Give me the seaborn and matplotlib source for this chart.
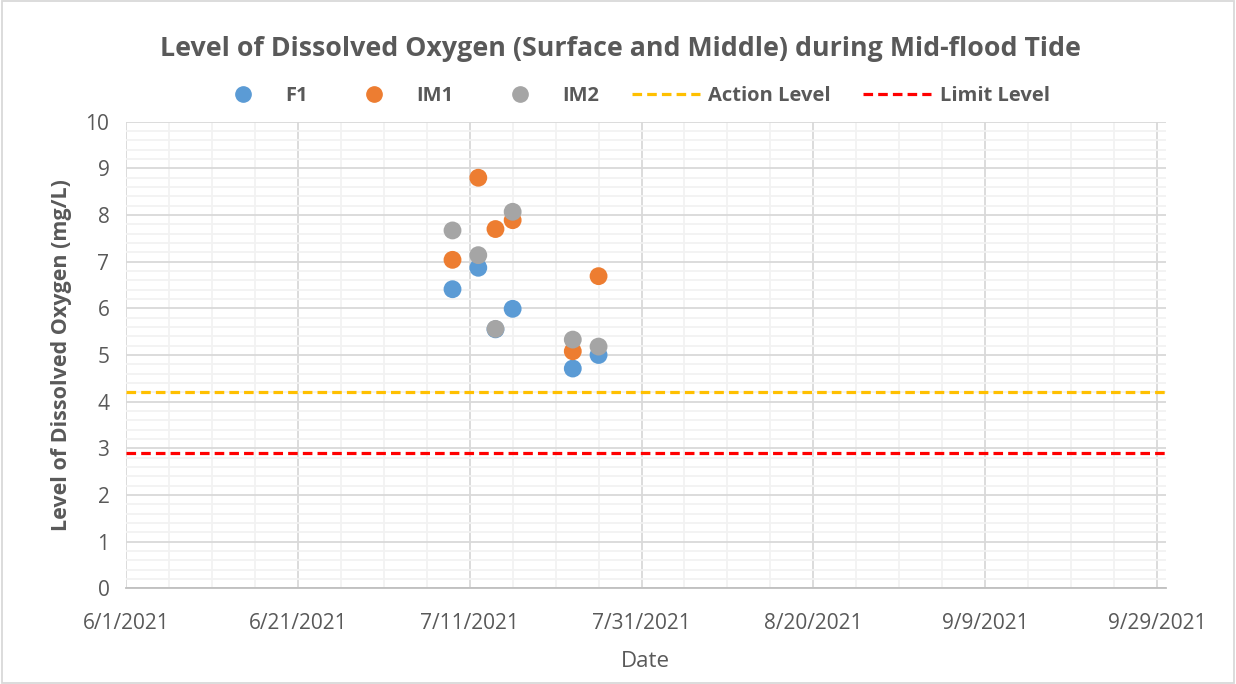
import matplotlib
matplotlib.use("Agg")
import matplotlib.pyplot as plt
import matplotlib.ticker as mticker
from matplotlib.lines import Line2D
from matplotlib.patches import Rectangle
import seaborn as sns
import pandas as pd

# data
dates = ["2021-07-09", "2021-07-12", "2021-07-14", "2021-07-16", "2021-07-23", "2021-07-26"]
f1 = [6.41, 6.87, 5.55, 5.99, 4.71, 5.00]
im1 = [7.04, 8.80, 7.70, 7.89, 5.08, 6.69]
im2 = [7.67, 7.14, 5.56, 8.07, 5.33, 5.18]
action_level = 4.2
limit_level = 2.9
x_start = "2021-06-01"
x_end = "2021-09-30"
tick_dates = ["2021-06-01", "2021-06-21", "2021-07-11", "2021-07-31",
              "2021-08-20", "2021-09-09", "2021-09-29"]
tick_labels = ["6/1/2021", "6/21/2021", "7/11/2021", "7/31/2021",
               "8/20/2021", "9/9/2021", "9/29/2021"]

colors = {"F1": "#5B9BD5", "IM1": "#ED7D31", "IM2": "#A5A5A5"}

df = pd.DataFrame({
    "Date": pd.to_datetime(dates * 3),
    "DO": f1 + im1 + im2,
    "Station": ["F1"] * len(dates) + ["IM1"] * len(dates) + ["IM2"] * len(dates),
})

sns.set_style("white")
plt.rcParams["font.family"] = ["Open Sans", "DejaVu Sans"]

fig = plt.figure(figsize=(12.36, 6.84), dpi=100)
ax = fig.add_axes([0.102, 0.140, 0.841, 0.682])

# grid
ax.set_xlim(pd.Timestamp(x_start), pd.Timestamp(x_end))
ax.set_ylim(0, 10)
ax.set_xticks(pd.to_datetime(tick_dates))
ax.set_xticklabels(tick_labels)
ax.set_xticks(pd.date_range(x_start, x_end, freq="5D"), minor=True)
ax.yaxis.set_major_locator(mticker.MultipleLocator(1))
ax.yaxis.set_minor_locator(mticker.MultipleLocator(0.2))
ax.grid(True, which="major", color="#D9D9D9", linewidth=1.3)
ax.grid(True, which="minor", color="#F2F2F2", linewidth=1.3)
ax.set_axisbelow(True)
for s in ["top", "right", "left"]:
    ax.spines[s].set_visible(False)
ax.spines["bottom"].set_color("#BFBFBF")
ax.spines["bottom"].set_linewidth(1.3)
ax.tick_params(which="both", length=0, labelsize=15, colors="#595959")
ax.tick_params(axis="x", pad=18)
ax.tick_params(axis="y", pad=12)

ax.axhline(action_level, color="#FFC000", linewidth=2.3, linestyle=(0, (3, 1.6)), zorder=2)
ax.axhline(limit_level, color="#FF0000", linewidth=2.3, linestyle=(0, (3, 1.6)), zorder=2)

sns.scatterplot(data=df, x="Date", y="DO", hue="Station", palette=colors,
                s=165, edgecolor="none", legend=False, ax=ax, zorder=3)

ax.set_xlabel("Date", fontsize=16, color="#595959", labelpad=12)
ax.set_ylabel("Level of Dissolved Oxygen (mg/L)", fontsize=15.5, fontweight="bold",
              color="#595959", labelpad=10)

fig.suptitle("Level of Dissolved Oxygen (Surface and Middle) during Mid-flood Tide",
             x=0.502, y=0.948, fontsize=19.3, fontweight="bold", color="#595959")

handles = [
    Line2D([], [], marker="o", linestyle="none", markersize=11, color=colors["F1"]),
    Line2D([], [], marker="o", linestyle="none", markersize=11, color=colors["IM1"]),
    Line2D([], [], marker="o", linestyle="none", markersize=11, color=colors["IM2"]),
    Line2D([], [], color="#FFC000", linewidth=2.3, linestyle=(0, (3, 1.6))),
    Line2D([], [], color="#FF0000", linewidth=2.3, linestyle=(0, (3, 1.6))),
]
labels = ["F1", "IM1", "IM2", "Action Level", "Limit Level"]
leg = fig.legend(handles, labels, loc="center", bbox_to_anchor=(0.509, 0.859), ncol=5,
                 frameon=False, fontsize=14.5, handlelength=3.4, columnspacing=1.6,
                 handletextpad=0.4)
for t in leg.get_texts():
    t.set_color("#595959")
    t.set_fontweight("bold")

fig.patches.append(Rectangle((0.002, 0.002), 0.996, 0.996, transform=fig.transFigure,
                             fill=False, edgecolor="#D9D9D9", linewidth=1.3))

fig.savefig("out.png", dpi=100)
